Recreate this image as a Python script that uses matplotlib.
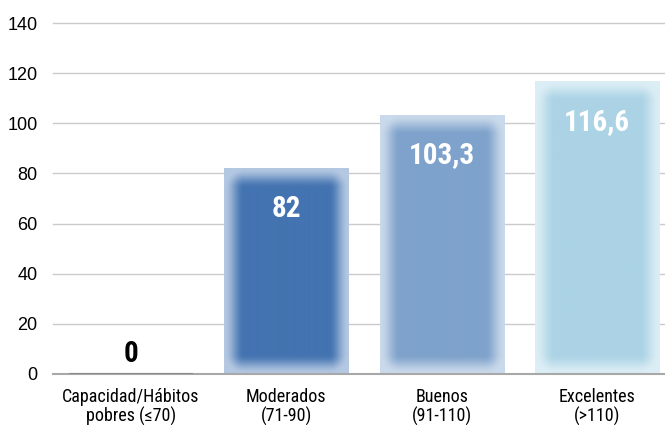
import matplotlib
matplotlib.use("Agg")
import matplotlib.pyplot as plt
import numpy as np
from matplotlib.colors import to_rgb

# data
categories = ["Capacidad/Hábitos\npobres (≤70)", "Moderados\n(71-90)", "Buenos\n(91-110)", "Excelentes\n(>110)"]
values = [0, 82, 103.3, 116.6]
value_labels = ["0", "82", "103,3", "116,6"]
centre_colors = ["#3f6fae", "#4373b0", "#7ea2cb", "#abd3e5"]
edge_colors = ["#a9bfdc", "#b4c8e2", "#cad9eb", "#dceef5"]
yticks = [0, 20, 40, 60, 80, 100, 120, 140]

narrow = ["Roboto Condensed", "DejaVu Sans"]

fig = plt.figure(figsize=(6.65, 4.25), dpi=100)
ax = fig.add_axes([53 / 665, 1 - 374 / 425, 1 - 53 / 665, (374 - 23) / 425])
ax.set_xlim(-0.5, 3.436)
ax.set_ylim(0, 140)

for s in ["top", "right", "left"]:
    ax.spines[s].set_visible(False)
ax.spines["bottom"].set_color("#a8a8a8")
ax.spines["bottom"].set_linewidth(1.5)
ax.set_yticks(yticks)
ax.set_yticklabels([str(t) for t in yticks], fontsize=13, family=["Liberation Sans", "DejaVu Sans"])
ax.tick_params(axis="y", length=0, pad=11)
ax.tick_params(axis="x", length=0, pad=10)
ax.set_xticks(range(len(categories)))
ax.set_xticklabels(categories, fontsize=13, family=narrow, linespacing=1.05)
for t in yticks[1:]:
    ax.axhline(t, color="#cbcbcb", lw=1, zorder=0, clip_on=False)

# pixels per data unit
px_x = ax.transData.transform((1, 0))[0] - ax.transData.transform((0, 0))[0]
px_y = ax.transData.transform((0, 1))[1] - ax.transData.transform((0, 0))[1]

width = 0.8
fade = 20.0
for i, v in enumerate(values):
    if v <= 0:
        ax.plot([i - width / 2, i + width / 2], [0, 0], color="#8a8a8a", lw=1.5, zorder=3, solid_capstyle="butt")
        continue
    w_px = int(round(width * px_x))
    h_px = int(round(v * px_y))
    xx = np.arange(w_px) + 0.5
    yy = np.arange(h_px) + 0.5
    dx = np.minimum(xx, w_px - xx)[None, :]
    dy = np.minimum(yy, h_px - yy)[:, None]
    ox = np.maximum(fade - dx, 0)
    oy = np.maximum(fade - dy, 0)
    dist = np.sqrt(ox ** 2 + oy ** 2)
    t = 1 - np.clip(dist / fade, 0, 1)
    t = t * t * (3 - 2 * t)
    c0 = np.array(to_rgb(edge_colors[i]))
    c1 = np.array(to_rgb(centre_colors[i]))
    img = c0[None, None, :] + (c1 - c0)[None, None, :] * t[:, :, None]
    ax.imshow(img, extent=(i - width / 2, i + width / 2, 0, v), origin="lower",
              aspect="auto", interpolation="bilinear", zorder=2)
    ax.set_xlim(-0.5, 3.436)
    ax.set_ylim(0, 140)

for i, (v, lab) in enumerate(zip(values, value_labels)):
    if v <= 0:
        ax.text(i, 7.8, lab, ha="center", va="center", fontsize=21, fontweight="bold",
                family=narrow, color="black", zorder=4)
    else:
        ax.text(i, v - 16, lab, ha="center", va="center", fontsize=21, fontweight="bold",
                family=narrow, color="white", zorder=4)

fig.savefig("out.png", dpi=100)
